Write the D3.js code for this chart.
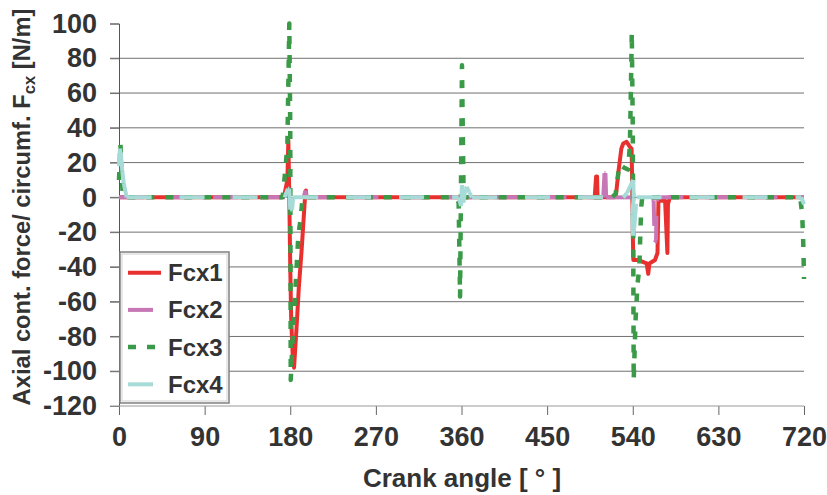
<!DOCTYPE html>
<html>
<head>
<meta charset="utf-8">
<script src="https://cdn.jsdelivr.net/npm/d3@7/dist/d3.min.js"></script>
<style>
  html, body { margin: 0; padding: 0; background: #fff; }
  svg { display: block; }
  text { font-family: "Liberation Sans", Arial, sans-serif; font-weight: bold; fill: #333; }
</style>
</head>
<body>
<svg id="chart" width="827" height="495"></svg>
<script>
// Axial contact force per circumference over one 720° engine cycle, four contacts.
const xTicks = [0, 90, 180, 270, 360, 450, 540, 630, 720];
const yTicks = [-120, -100, -80, -60, -40, -20, 0, 20, 40, 60, 80, 100];
const seriesNames = ["Fcx1", "Fcx2", "Fcx3", "Fcx4"];
const seriesColors = ["#e8312f", "#c777b6", "#3a9a47", "#a6dbd8"];
const seriesDash = [null, "25,22", "8,11", "25,28"];
const seriesWidth = [4, 4, 4.5, 4];
// long-dash series restart their pattern at every data point, short dashes run on
const dashPerSegment = [false, true, false, true];

// [crank angle °, force N/m]
const fcx1 = [[0,0],[170,0],[174,2],[177,10],[178,33],[179,0],[180,-40],[181,-70],[182.5,-90],[184,-98],
  [186.5,-76],[189,-52],[192,-30],[195.5,0],[196.5,4],[197,0],[500,0],[501.5,12],[502.5,12],[503,0],
  [521,0],[522.5,2],[525,15],[528,28],[530,31],[533.5,32],[537,29],[538.8,28],[539.5,5],[540,-20],
  [540.6,-36],[545,-36],[550,-37],[554.6,-38],[556.3,-44],[557.5,-38],[563.4,-36],[566,-32],[567,-2],
  [574,-2],[576.4,-32],[577,-4],[579,0],[720,0]];
const fcx2 = [[0,0],[194,0],[196,4],[197,0],[509,0],[510.3,14],[511.3,14],[512,0],
  [561,0],[562,-2],[563,-26],[564.5,-25],[565,-2],[567,0],[720,0]];
const fcx3 = [[0,10],[1.5,31],[3,12],[4,0],[170,0],[172,0],[173.5,8],[175.5,20],[177,31],[179,100],
  [180,40],[180.5,-105],[182,-88],[183,-78],[185,-57],[188.5,-22],[191,-12],[193,0],
  [354,0],[357,-3],[358.5,-57],[360.5,76],[362,10],[362.5,0],
  [518,0],[522,2],[526,19],[531,17],[535,16],[537,30],[538,60],[539,95],[540,40],[540.5,-20],[541,-105],
  [543,-70],[545,-50],[547,-40],[548,-20],[549,-5],[550,0],
  [716,0],[718,-9],[719,-22],[719.5,-33],[720,-47]];
const fcx4 = [[0,18],[1,28],[2.5,22],[3.5,15],[5,8],[8,0],[174,0],[177.5,5],[179,5],[180,-7],[182,-7],[183,0],
  [357,0],[359.5,-5],[360.5,7],[362,-3],[364,5],[365.5,6],[368,3],[371,0],
  [530,0],[534,2.5],[540.5,10],[541,0],[539.5,-10],[540,-22],[541.5,-18],[544,0],[717,0],[720,-4]];
const seriesData = [fcx1, fcx2, fcx3, fcx4];

const svg = d3.select("#chart");
const x = d3.scaleLinear().domain([0, 720]).range([119, 804]);
const y = d3.scaleLinear().domain([-120, 100]).range([406, 23.5]);

// horizontal grid lines
svg.append("g").selectAll("line")
  .data(yTicks.filter(v => v > -120 && v < 100))
  .join("line")
  .attr("x1", 110).attr("x2", x(720))
  .attr("y1", d => y(d)).attr("y2", d => y(d))
  .attr("stroke", "#707070").attr("stroke-width", 1);

// y axis
const yAxis = svg.append("g")
  .attr("transform", `translate(${x(0)},0)`)
  .call(d3.axisLeft(y).tickValues(yTicks).tickSize(9).tickPadding(13).tickFormat(d => String(d)));
yAxis.select(".domain").attr("stroke", "#555");
yAxis.selectAll(".tick line").attr("stroke", "#707070");
yAxis.selectAll("text").attr("font-size", 27).attr("fill", "#333")
  .style("font-family", "'Liberation Sans', Arial, sans-serif").style("font-weight", "bold");

// x axis
const xAxis = svg.append("g")
  .attr("transform", `translate(0,${y(-120)})`)
  .call(d3.axisBottom(x).tickValues(xTicks).tickSizeInner(9).tickSizeOuter(0).tickPadding(12));
xAxis.select(".domain").remove();
xAxis.append("line").attr("x1", 110).attr("x2", x(720)).attr("stroke", "#999");
xAxis.selectAll(".tick line").attr("stroke", "#666");
xAxis.selectAll("text").attr("font-size", 27).attr("fill", "#333")
  .style("font-family", "'Liberation Sans', Arial, sans-serif").style("font-weight", "bold");

// series lines
const line = d3.line().x(d => x(d[0])).y(d => y(d[1]));
seriesData.forEach((data, i) => {
  const g = svg.append("g")
    .attr("fill", "none")
    .attr("stroke", seriesColors[i])
    .attr("stroke-width", seriesWidth[i])
    .attr("stroke-linejoin", "round");
  if (dashPerSegment[i]) {
    g.selectAll("path")
      .data(d3.pairs(data))
      .join("path")
      .attr("d", line)
      .attr("stroke-dasharray", seriesDash[i]);
  } else {
    g.append("path").datum(data).attr("d", line)
      .attr("stroke-dasharray", seriesDash[i]);
  }
});

// legend
const lg = svg.append("g");
lg.append("rect").attr("x", 120).attr("y", 252).attr("width", 109).attr("height", 151)
  .attr("fill", "#fff").attr("stroke", "#808080").attr("stroke-width", 1.5);
lg.append("rect").attr("x", 122).attr("y", 254).attr("width", 105).attr("height", 147)
  .attr("fill", "none").attr("stroke", "#d0d0d0").attr("stroke-width", 1);
seriesNames.forEach((name, i) => {
  const cy = 272.7 + i * 37.2;
  lg.append("line").attr("x1", 128).attr("x2", 161).attr("y1", cy).attr("y2", cy)
    .attr("stroke", seriesColors[i]).attr("stroke-width", seriesWidth[i])
    .attr("stroke-dasharray", seriesDash[i]);
  lg.append("text").attr("x", 168).attr("y", cy).attr("dy", "0.35em")
    .attr("font-size", 24).text(name);
});

// axis titles
svg.append("text").attr("x", 462).attr("y", 487).attr("text-anchor", "middle")
  .attr("font-size", 26).text("Crank angle [ ° ]");

const yt = svg.append("text").attr("transform", "translate(30,207) rotate(-90)")
  .attr("text-anchor", "middle").attr("font-size", 20);
yt.append("tspan").text("Axial cont. force/ circumf.  F");
yt.append("tspan").attr("font-size", 14).attr("dy", 5).text("cx");
yt.append("tspan").attr("dy", -5).text(" [N/m]");
// scale the rotated title so it spans the axis height
const len = yt.node().getComputedTextLength();
yt.attr("font-size", 20 * 397 / len);
yt.selectAll("tspan").filter((d, i) => i === 1).attr("font-size", 14 * 397 / len);
</script>
</body>
</html>
